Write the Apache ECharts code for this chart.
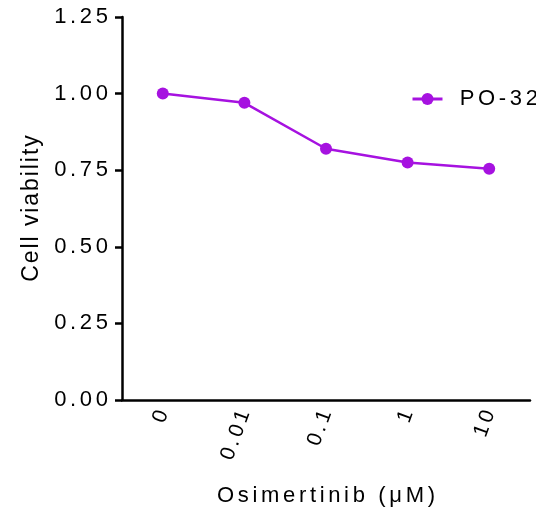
<!DOCTYPE html>
<html lang="en">
<head>
    <meta charset="UTF-8">
    <title>Cell viability</title>
    <script src="https://cdn.jsdelivr.net/npm/echarts@6/dist/echarts.min.js"></script>
</head>
<body style="margin:0;">
<div id="main" style="width: 536px;height:511px;"></div>
<script type="text/javascript">
    var doses = ['0', '0.01', '0.1', '1', '10'];
    var viability = [1.00, 0.97, 0.82, 0.775, 0.755];
    var seriesName = 'PO-32';

    // the original uses wide letter spacing
    var sixth = '\u2006';
    var hair = '\u200a';
    function spaced(s, sep) {
        return String(s).split('').join(sep || sixth);
    }

    var myChart = echarts.init(document.getElementById('main'));
    var purple = '#a612e0';
    var font = 'Liberation Sans, Arial, sans-serif';

    myChart.setOption({
        animation: false,
        backgroundColor: '#fff',
        grid: {left: 122, right: 6, top: 17, bottom: 111, outerBoundsMode: 'none', containLabel: false},
        legend: {
            data: [seriesName],
            left: 411,
            top: 88,
            padding: 0,
            itemWidth: 30,
            itemHeight: 15,
            lineStyle: {width: 3},
            formatter: function (n) { return '  ' + spaced(n); },
            textStyle: {fontFamily: font, fontSize: 22, color: '#000'}
        },
        xAxis: {
            type: 'category',
            data: doses,
            boundaryGap: true,
            name: spaced('Osimertinib (\u03bcM)'),
            nameLocation: 'middle',
            nameGap: 85,
            nameTextStyle: {fontFamily: font, fontSize: 22, color: '#000'},
            axisLine: {lineStyle: {color: '#000', width: 2.5}},
            axisTick: {alignWithLabel: true, length: 8, lineStyle: {width: 2.5, color: '#000'}},
            axisLabel: {
                rotate: 70,
                margin: 11,
                fontFamily: font,
                fontSize: 21,
                color: '#000',
                formatter: function (v) { return spaced(v); }
            }
        },
        yAxis: {
            type: 'value',
            min: 0,
            max: 1.25,
            interval: 0.25,
            name: spaced('Cell viability', hair),
            nameLocation: 'middle',
            nameGap: 72,
            nameTextStyle: {fontFamily: font, fontSize: 23, color: '#000'},
            splitLine: {show: false},
            axisLine: {show: true, lineStyle: {color: '#000', width: 2.5}},
            axisTick: {show: true, length: 7, lineStyle: {width: 2.5, color: '#000'}},
            axisLabel: {
                margin: 14,
                fontFamily: font,
                fontSize: 22,
                color: '#000',
                formatter: function (v) { return spaced(v.toFixed(2)); }
            }
        },
        series: [{
            name: seriesName,
            type: 'line',
            data: viability,
            symbol: 'circle',
            symbolSize: 12,
            color: purple,
            lineStyle: {width: 2.5, color: purple},
            itemStyle: {color: purple}
        }]
    });
</script>
</body>
</html>
